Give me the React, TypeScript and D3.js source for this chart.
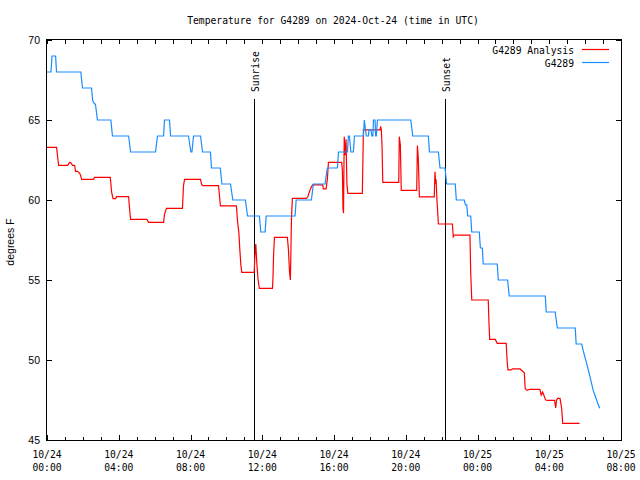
import React from "react";
import * as d3 from "d3";

const startUtc = Date.UTC(2024, 9, 24, 0, 0);

const obsHours = [0, 0.22, 0.28, 0.48, 0.53, 1.89, 1.93, 1.98, 2.48, 2.55, 2.65, 2.70, 2.81, 3.56, 3.65, 4.55, 4.66, 6.05, 6.16, 6.50, 6.55, 6.83, 6.89, 7.89, 8.02, 8.08, 8.17, 8.56, 8.67, 9.11, 9.17, 9.66, 9.75, 10.23, 10.36, 11.06, 11.18, 11.84, 11.92, 12.16, 12.22, 13.83, 13.89, 14.74, 14.85, 15.50, 15.63, 16.19, 16.25, 16.75, 16.80, 16.86, 16.90, 16.94, 17.08, 17.14, 17.64, 17.69, 17.80, 17.92, 17.95, 18.06, 18.11, 18.17, 18.20, 18.29, 18.32, 18.36, 18.42, 20.28, 20.39, 21.26, 21.32, 21.82, 21.91, 22.19, 22.28, 22.76, 22.82, 23.26, 23.33, 23.40, 23.45, 23.62, 23.68, 24.10, 24.16, 24.27, 24.32, 25.10, 25.16, 25.68, 25.77, 27.78, 27.83, 28.33, 28.45, 29.45, 29.50, 29.81, 29.89, 30.08, 30.27, 30.45, 30.64, 30.81];
const obsTemps = [68, 68, 69, 69, 68, 68, 67.5, 67, 67, 66.2, 66, 66, 65, 65, 64, 64, 63, 63, 64, 64, 65, 65, 64, 64, 63, 63, 64, 64, 63, 63, 62, 62, 61, 61, 60, 60, 59, 59, 58, 58, 59, 59, 60, 60, 61, 61, 62, 62, 63, 63, 64, 64, 63.5, 63, 63, 64, 64, 65, 64, 64, 64.4, 64.4, 64, 64, 65, 65, 64, 64, 65, 65, 64, 64, 63, 63, 62, 62, 61, 61, 60, 60, 59.7, 59.7, 59, 59, 58, 58, 57, 57, 56, 56, 55, 55, 54, 54, 53, 53, 52, 52, 51, 51, 50.6, 49.8, 48.96, 48.1, 47.5, 46.98];

const anaHours = [0, 0.535, 0.61, 0.65, 1.15, 1.26, 1.31, 1.43, 1.54, 1.59, 1.70, 1.82, 1.87, 1.93, 2.60, 2.65, 3.53, 3.60, 3.68, 3.82, 3.88, 4.55, 4.60, 4.66, 5.57, 5.66, 6.50, 6.55, 6.66, 7.55, 7.61, 7.67, 8.56, 8.61, 8.67, 9.56, 9.62, 9.67, 10.56, 10.62, 10.70, 10.75, 10.81, 10.86, 11.55, 11.59, 11.64, 11.70, 11.77, 11.84, 12.57, 12.60, 12.63, 12.68, 13.40, 13.46, 13.52, 13.57, 13.63, 13.68, 14.46, 14.54, 14.61, 14.69, 14.80, 15.37, 15.41, 15.56, 15.63, 15.69, 16.43, 16.47, 16.50, 16.53, 16.57, 16.62, 16.67, 16.72, 16.77, 17.58, 17.64, 18.57, 18.60, 18.64, 18.68, 18.72, 19.61, 19.64, 19.70, 19.75, 20.61, 20.65, 20.70, 20.76, 21.59, 21.63, 21.67, 21.69, 21.74, 21.82, 22.60, 22.65, 22.71, 23.58, 23.62, 23.68, 24.60, 24.64, 24.68, 24.99, 25.10, 25.60, 25.66, 25.70, 25.85, 25.96, 26.37, 26.61, 26.66, 26.77, 26.92, 27.48, 27.55, 27.63, 27.70, 27.80, 27.91, 28.30, 28.36, 28.41, 28.47, 28.60, 28.69, 28.75, 29.69];
const anaTemps = [63.29, 63.29, 62.5, 62.17, 62.17, 62.35, 62.35, 62.17, 62.17, 61.79, 61.79, 61.67, 61.55, 61.29, 61.29, 61.42, 61.42, 60.5, 60.08, 60.08, 60.21, 60.21, 59.5, 58.79, 58.79, 58.6, 58.6, 59.1, 59.48, 59.48, 60.9, 61.29, 61.29, 61.0, 60.9, 60.9, 60.2, 59.63, 59.63, 58.7, 57.9, 56.9, 55.9, 55.48, 55.48, 56.5, 57.25, 56.0, 55.0, 54.48, 54.48, 55.2, 56.5, 57.67, 57.67, 56.9, 55.5, 55.0, 58.9, 60.1, 60.1, 60.2, 60.45, 60.7, 60.94, 60.94, 60.7, 60.7, 61.3, 62.35, 62.35, 61.8, 59.5, 59.17, 63.96, 62.8, 63.8, 61.0, 60.42, 60.42, 64.38, 64.38, 64.6, 64.38, 63.3, 61.1, 61.1, 63.96, 63.4, 60.6, 60.6, 63.4, 62.6, 60.2, 60.2, 61.77, 61.0, 61.3, 60.0, 58.5, 58.5, 57.7, 57.81, 57.81, 55.5, 53.75, 53.75, 52.3, 51.29, 51.29, 51.04, 51.04, 49.8, 49.38, 49.38, 49.44, 49.44, 49.2, 48.2, 48.1, 48.17, 48.17, 47.8, 48.0, 47.8, 47.5, 47.48, 47.48, 47.0, 47.5, 47.6, 47.6, 47.0, 46.04, 46.04];

const seriesNames = ["G4289 Analysis", "G4289"];
const seriesColors = ["#ff0000", "#1a8cff"];
const yTicks = [45, 50, 55, 60, 65, 70];
const sunEvents = [
  { label: "Sunrise", hour: 11.55 },
  { label: "Sunset", hour: 22.21 },
];
const titleText = "Temperature for G4289 on 2024-Oct-24 (time in UTC)";
const yLabel = "degrees F";

const W = 640, H = 480;
const L = 47, R = 621, T = 40, B = 440;
const mono = "'DejaVu Sans Mono', monospace";
const sans = "'Liberation Sans', Arial, sans-serif";

const toDate = (h: number) => new Date(startUtc + h * 3600e3);

export default function App() {
  const x = d3.scaleUtc().domain([toDate(0), toDate(32)]).range([L, R]);
  const y = d3.scaleLinear().domain([45, 70]).range([B, T]);
  const line = d3.line<[number, number]>().x((d) => x(toDate(d[0]))).y((d) => y(d[1]));
  const obs: [number, number][] = obsHours.map((h, i) => [h, obsTemps[i]]);
  const ana: [number, number][] = anaHours.map((h, i) => [h, anaTemps[i]]);
  const hourTicks = d3.utcHour.range(toDate(0), toDate(32.01), 1);
  const majorTicks = d3.utcHour.range(toDate(0), toDate(32.01), 4);
  const fmtDay = d3.utcFormat("%m/%d");
  const fmtTime = d3.utcFormat("%H:%M");

  return (
    <svg width={W} height={H} style={{ position: "absolute", left: 0, top: 0, background: "#fff" }}>
      <rect x={0} y={0} width={W} height={H} fill="#fff" />
      <text x={333} y={24} fontFamily={mono} fontSize={9.7} textAnchor="middle" fill="#000">{titleText}</text>
      {/* minor ticks */}
      <g stroke="#000" strokeWidth={1} shapeRendering="crispEdges">
        {hourTicks.map((d, i) => {
          const xx = Math.round(x(d)) + 0.5;
          const major = majorTicks.some((m) => +m === +d);
          return (
            <g key={i}>
              <line x1={xx} x2={xx} y1={B} y2={B - (major ? 5 : 3)} />
              <line x1={xx} x2={xx} y1={T} y2={T + 4} />
            </g>
          );
        })}
        {yTicks.map((v) => {
          const yy = Math.round(y(v)) + 0.5;
          return (
            <g key={v}>
              <line x1={L} x2={L + 5} y1={yy} y2={yy} />
              <line x1={R} x2={R - 5} y1={yy} y2={yy} />
            </g>
          );
        })}
      </g>
      {majorTicks.map((d, i) => (
        <text key={i} x={x(d)} y={458} fontFamily={mono} fontSize={9.7} textAnchor="middle" fill="#000">
          <tspan x={x(d)} y={458}>{fmtDay(d)}</tspan>
          <tspan x={x(d)} y={471}>{fmtTime(d)}</tspan>
        </text>
      ))}
      {yTicks.map((v) => (
        <text key={v} x={40} y={y(v) + 3.5} fontFamily={sans} fontSize={10.5} textAnchor="end" fill="#000">{v}</text>
      ))}
      <text transform={`translate(14,242) rotate(-90)`} fontFamily={sans} fontSize={10.5} textAnchor="middle" fill="#000">{yLabel}</text>
      {sunEvents.map((s) => {
        const xx = Math.round(x(toDate(s.hour))) + 0.5;
        return (
          <g key={s.label}>
            <line x1={xx} x2={xx} y1={99} y2={B} stroke="#000" strokeWidth={1} shapeRendering="crispEdges" />
            <text transform={`translate(${xx + 4.5},92) rotate(-90)`} fontFamily={mono} fontSize={9.7} textAnchor="start" fill="#000">{s.label}</text>
          </g>
        );
      })}
      <path d={line(ana) || ""} fill="none" stroke={seriesColors[0]} strokeWidth={1.2} />
      <path d={line(obs) || ""} fill="none" stroke={seriesColors[1]} strokeWidth={1.2} />
      {seriesNames.map((n, i) => (
        <g key={n}>
          <text x={574} y={53.5 + i * 13} fontFamily={mono} fontSize={9.7} textAnchor="end" fill="#000">{n}</text>
          <line x1={582} x2={609} y1={49.5 + i * 13} y2={49.5 + i * 13} stroke={seriesColors[i]} strokeWidth={1.2} />
        </g>
      ))}
      <rect x={L - 0.5} y={T - 0.5} width={R - L + 1} height={B - T + 1} fill="none" stroke="#000" strokeWidth={1} shapeRendering="crispEdges" />
    </svg>
  );
}
